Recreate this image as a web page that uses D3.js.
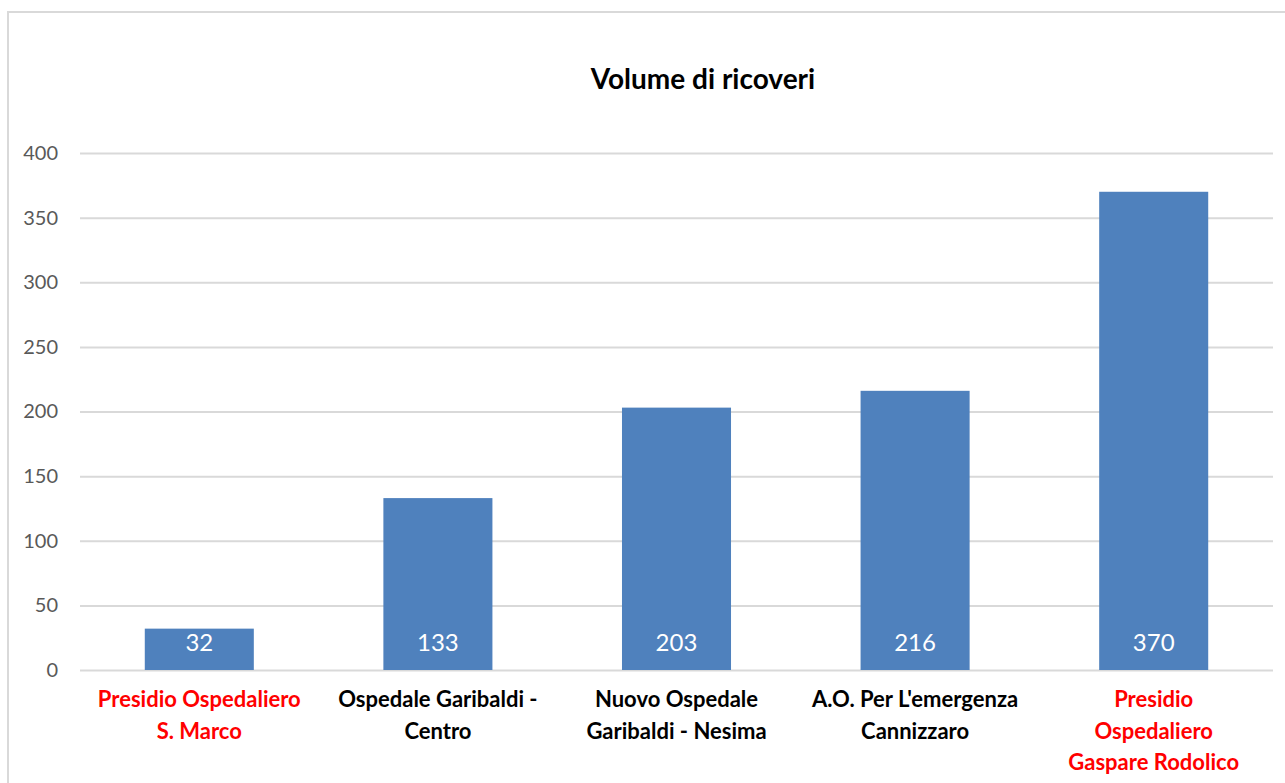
<!DOCTYPE html>
<html><head><meta charset="utf-8">
<script src="https://cdn.jsdelivr.net/npm/d3@7"></script>
<style>body{margin:0;background:#fff}svg{display:block}</style>
</head><body>
<script>
const categories = [
  ["Presidio Ospedaliero", "S. Marco"],
  ["Ospedale Garibaldi -", "Centro"],
  ["Nuovo Ospedale", "Garibaldi - Nesima"],
  ["A.O. Per L'emergenza", "Cannizzaro"],
  ["Presidio", "Ospedaliero", "Gaspare Rodolico"]
];
const highlighted = [true, false, false, false, true];
const values = [32, 133, 203, 216, 370];
const yTicks = [0, 50, 100, 150, 200, 250, 300, 350, 400];
const title = "Volume di ricoveri";

const W = 1285, H = 783;
const font = "Lato, 'Open Sans', sans-serif";
const svg = d3.select("body").append("svg").attr("width", W).attr("height", H);
svg.append("rect").attr("x", 8).attr("y", 12).attr("width", W + 10).attr("height", H + 10)
  .attr("fill", "#fff").attr("stroke", "#d9d9d9").attr("stroke-width", 2);

const m = {left: 80, right: 1273, top: 153, bottom: 670};
const x = d3.scaleBand().domain(d3.range(categories.length)).range([m.left, m.right]).paddingInner(0.543).paddingOuter(0.2715);
const y = d3.scaleLinear().domain([0, 400]).range([m.bottom, m.top]);

svg.append("text").attr("x", 703).attr("y", 89).attr("text-anchor", "middle")
  .attr("font-family", font).attr("font-weight", "bold").attr("font-size", 28).attr("fill", "#000").text(title);

const ya = svg.append("g").attr("transform", `translate(${m.left},0)`)
  .call(d3.axisLeft(y).tickValues(yTicks).tickSize(-(m.right - m.left)).tickPadding(22));
ya.select(".domain").remove();
ya.selectAll(".tick line").attr("stroke", "#d9d9d9").attr("stroke-width", 2);
ya.selectAll(".tick text").attr("font-family", font).attr("font-size", 20).attr("fill", "#595959");

svg.append("g").selectAll("rect").data(values).join("rect")
  .attr("x", (d, i) => x(i)).attr("width", x.bandwidth())
  .attr("y", d => y(d)).attr("height", d => y(0) - y(d)).attr("fill", "#4F81BD");

svg.append("g").selectAll("text").data(values).join("text")
  .attr("x", (d, i) => x(i) + x.bandwidth() / 2).attr("y", y(0) - 19)
  .attr("text-anchor", "middle").attr("font-family", font).attr("font-size", 24).attr("fill", "#fff")
  .text(d => d);

const lab = svg.append("g").selectAll("text").data(categories).join("text")
  .attr("x", (d, i) => x(i) + x.bandwidth() / 2).attr("y", 707)
  .attr("text-anchor", "middle").attr("font-family", font).attr("font-weight", "bold").attr("font-size", 22)
  .attr("fill", (d, i) => highlighted[i] ? "#FF0000" : "#000");
lab.selectAll("tspan").data(d => d).join("tspan")
  .attr("x", function() { return this.parentNode.getAttribute("x"); })
  .attr("dy", (d, j) => j === 0 ? 0 : 31.5).text(d => d);
</script>
</body></html>
